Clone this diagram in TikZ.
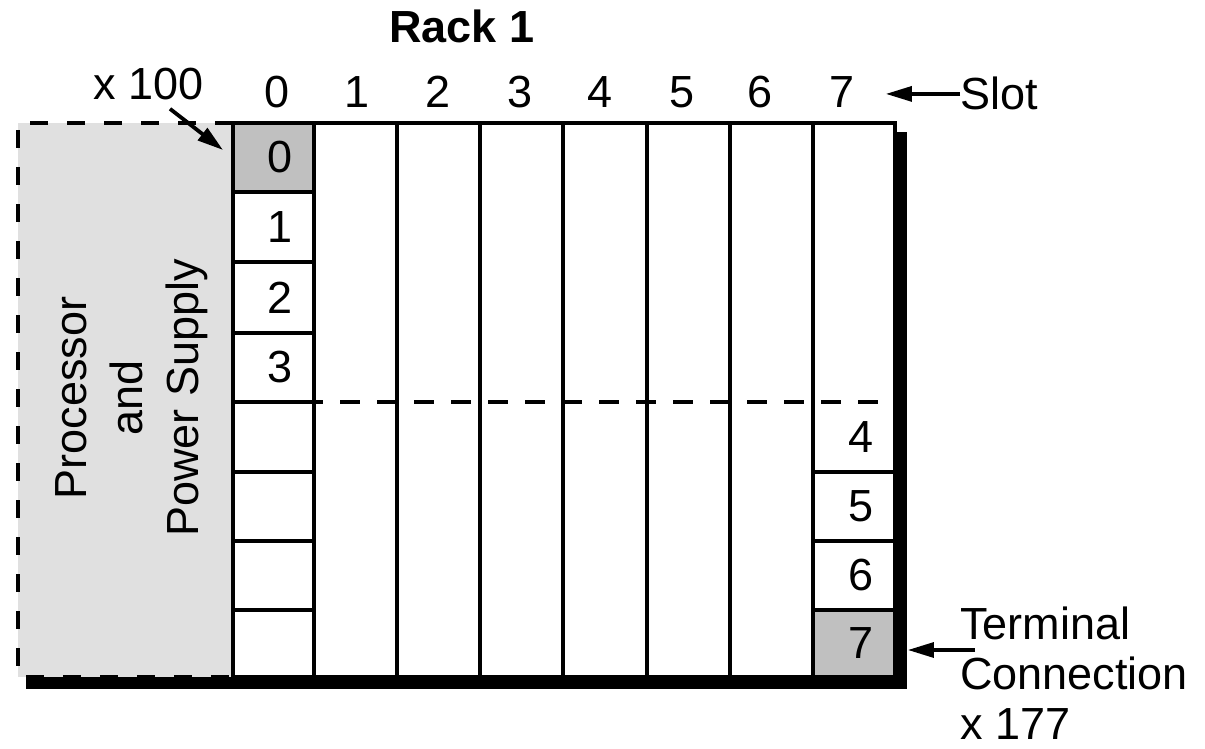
\documentclass[tikz,border=0pt]{standalone}
\usepackage{fontspec}
\setmainfont{Liberation Sans}
\usepackage{tikz}
\usetikzlibrary{arrows.meta,positioning}
\definecolor{cellgray}{RGB}{192,192,192}
\definecolor{procgray}{RGB}{224,224,224}
\tikzset{
  rackline/.style={line width=2pt, black},
  cutline/.style={line width=2pt, dash pattern=on 10pt off 8.5pt},
  procedge/.style={line width=2pt, dash pattern=on 9pt off 9.5pt},
  lbl/.style={font=\fontsize{22.5}{28}\selectfont, inner sep=0pt},
  ptr/.style={-{Triangle[length=13pt,width=7.5pt]}, line width=1.6pt},
}

\begin{document}
\begin{tikzpicture}[x=0.5pt,y=-0.5pt]
  \useasboundingbox (0,0) rectangle (1205,749);
  % --- shadow under processor and rack ---
  \fill[black] (26,132) rectangle (907,689);
  % --- processor and power supply ---
  \fill[procgray] (18,123) rectangle (233,677);
  \draw[procedge] (233,123) -| (18,677) -- (233,677);
  \node[lbl, rotate=90, align=center] (proc) at (132,398)
    {Processor\\and\\Power Supply};
  % --- rack frame, slots and cells ---
  \fill[white] (233,123) rectangle (895,677);
  \fill[cellgray] (233,123) rectangle (314,192);
  \fill[cellgray] (813,610) rectangle (895,677);
  \foreach \x in {314,397,480,563,647,730,813}
    \draw[rackline] (\x,123) -- (\x,677);
  \foreach \y in {192,262,333,402,472,541,610}
    \draw[rackline] (233,\y) -- (314,\y);
  \foreach \y in {472,541,610}
    \draw[rackline] (813,\y) -- (895,\y);
  \draw[cutline] (303,402) -- (880,402);
  \draw[rackline] (233,123) rectangle (895,677);
  % cell numbers
  \foreach \r/\y in {0/157.5,1/227,2/297.5,3/367.5}
    \node[lbl] (c0-\r) at (280,\y) {\r};
  \foreach \r/\y in {4/437,5/506.5,6/575.5,7/643.5}
    \node[lbl] (c7-\r) at (861,\y) {\r};
  % --- headings ---
  \node[lbl, font=\fontsize{22.5}{28}\selectfont\bfseries, anchor=base]
    (rack) at (462,43) {Rack 1};
  \foreach \s/\x in {0/277,1/357,2/438,3/520,4/600,5/682,6/760,7/842}
    \node[lbl, anchor=base] (slot\s) at (\x,108) {\s};
  % --- callouts ---
  \node[lbl, anchor=base west] (slotlbl) at (960,110) {Slot};
  \draw[ptr, shorten >=15.5pt] (slotlbl.west) -- (slotlbl.west -| slot7.east);
  \node[lbl, anchor=base] (xh) at (149,100) {x 100};
  \coordinate (xhtip) at (223,150);
  \draw[ptr, line width=1.9pt] ([xshift=10.5pt, yshift=-4pt]xh.south) -- (xhtip);
  \node[lbl, font=\fontsize{22.5}{25}\selectfont, anchor=north west, align=left]
    (term) at (960,606) {Terminal\\Connection\\x 177};
  \coordinate (termtail) at (975,650);
  \draw[ptr, shorten >=17pt] (termtail) -- (termtail -| c7-7.east);
\end{tikzpicture}
\end{document}
